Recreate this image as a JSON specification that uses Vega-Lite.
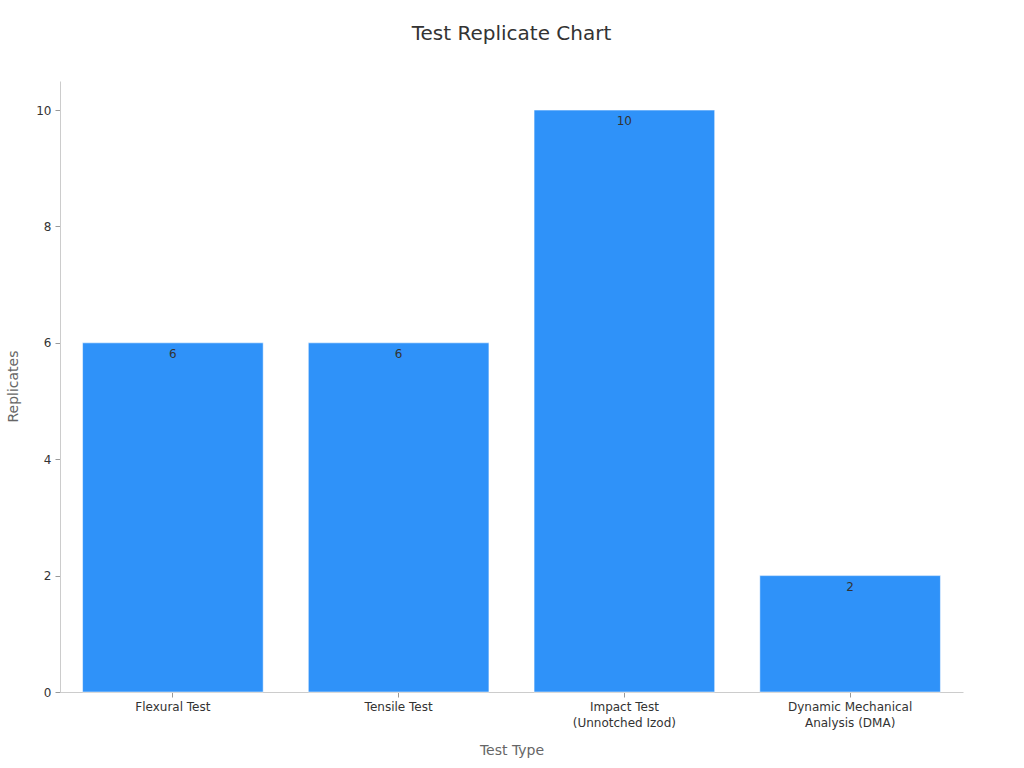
{
  "$schema": "https://vega.github.io/schema/vega-lite/v6.json",
  "width": 903,
  "height": 611,
  "autosize": {"type": "none"},
  "padding": {"left": 60, "top": 81, "right": 61, "bottom": 76},
  "background": "white",
  "config": {
    "font": "DejaVu Sans",
    "view": {"stroke": null},
    "axis": {"grid": false, "domainColor": "#cccccc", "tickColor": "#999999", "labelColor": "#333333", "labelFontSize": 12, "titleColor": "#666666", "titleFontSize": 14, "titleFontWeight": "normal"}
  },
  "title": {"text": "Test Replicate Chart", "fontSize": 20, "fontWeight": "normal", "color": "#333333", "offset": 37, "anchor": "middle"},
  "data": {
    "values": [
      {"test": "Flexural Test", "replicates": 6},
      {"test": "Tensile Test", "replicates": 6},
      {"test": "Impact Test\n(Unnotched Izod)", "replicates": 10},
      {"test": "Dynamic Mechanical\nAnalysis (DMA)", "replicates": 2}
    ]
  },
  "encoding": {
    "x": {
      "field": "test", "type": "nominal", "sort": null, "title": "Test Type",
      "scale": {"paddingInner": 0.2, "paddingOuter": 0.1},
      "axis": {"labelAngle": 0, "labelExpr": "split(datum.label, '\\n')", "labelLineHeight": 16, "titlePadding": 15, "labelPadding": 4}
    },
    "y": {
      "field": "replicates", "type": "quantitative", "title": "Replicates",
      "scale": {"domain": [0, 10.5], "nice": false},
      "axis": {"values": [0, 2, 4, 6, 8, 10], "titleX": -40, "titleY": 305, "labelPadding": 4}
    }
  },
  "layer": [
    {"mark": {"type": "bar", "color": "#2f92f9", "stroke": "#ffffff", "strokeOpacity": 0.5, "strokeWidth": 1}},
    {"mark": {"type": "text", "baseline": "middle", "dy": 11, "fontSize": 12, "color": "#333333"},
     "encoding": {"text": {"field": "replicates", "type": "quantitative"}}}
  ]
}
